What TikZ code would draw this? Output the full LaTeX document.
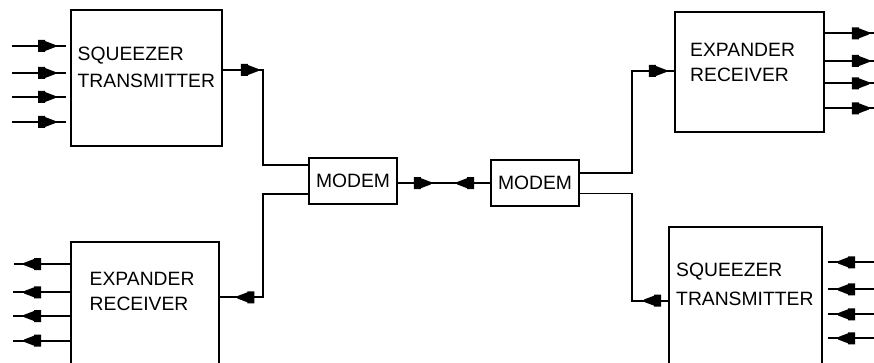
\documentclass[tikz,border=0pt]{standalone}
\usepackage{fontspec}
\setmainfont{Liberation Sans}
\usetikzlibrary{decorations.markings}
\tikzset{
  wire/.style={line width=1.8pt},
  box/.style={draw, line width=1.8pt, rectangle, inner sep=0pt, font=\fontsize{19.3}{26}\selectfont},
  midarr/.style={decoration={markings, mark=at position #1 with {\fill (-17pt,6pt) -- (-10pt,6pt) -- (-10pt,5pt) -- (0pt,1.2pt) -- (0pt,-1.2pt) -- (-10pt,-5pt) -- (-10pt,-6pt) -- (-17pt,-6pt) -- cycle;}}, postaction={decorate}},
  lbl/.style={anchor=north west, inner sep=0pt, align=left}
}
\begin{document}
\begin{tikzpicture}[x=1pt,y=-1pt]
\useasboundingbox (0,0) rectangle (874,363);
\clip (0,0) rectangle (874,363);
% boxes
\node[box, minimum width=151pt, minimum height=136pt] (sqTL) at (146.5,78) {};
\node[box, minimum width=148pt, minimum height=130pt] (exBL) at (145,307) {};
\node[box, minimum width=88pt, minimum height=46pt] (modL) at (353,181.2) {MODEM};
\node[box, minimum width=88pt, minimum height=46pt] (modR) at (535,183) {MODEM};
\node[box, minimum width=149pt, minimum height=120pt] (exTR) at (749.5,72) {};
\node[box, minimum width=153pt, minimum height=145pt] (sqBR) at (745.5,299.5) {};
% labels
\node[lbl, font=\fontsize{19.3}{27}\selectfont] (tTL) at (77.5,47) {SQUEEZER\\TRANSMITTER};
\node[lbl, font=\fontsize{19.3}{25}\selectfont] (tTR) at (690,43) {EXPANDER\\RECEIVER};
\node[lbl, font=\fontsize{19.3}{25.5}\selectfont] (tBL) at (89.5,272) {EXPANDER\\RECEIVER};
\node[lbl, font=\fontsize{19.3}{28.5}\selectfont] (tBR) at (676,263) {SQUEEZER\\TRANSMITTER};
% free ends and bends
\coordinate (in1) at (12,46);  \coordinate (in2) at (12,73);
\coordinate (in3) at (12,97);  \coordinate (in4) at (12,122);
\coordinate (b1) at (14,264);  \coordinate (b2) at (13,292.3);
\coordinate (b3) at (13,316);  \coordinate (b4) at (13,340.7);
\coordinate (o1) at (874,33.3); \coordinate (o2) at (874,61);
\coordinate (o3) at (874,83.3); \coordinate (o4) at (874,108.3);
\coordinate (r1) at (874,262.3); \coordinate (r2) at (874,289.3);
\coordinate (r3) at (874,314.3); \coordinate (r4) at (874,338.3);
\coordinate (jLa) at (263,70);  \coordinate (jLb) at (263,165);
\coordinate (jLc) at (263,194); \coordinate (jLd) at (263,297.3);
\coordinate (jRa) at (632,173); \coordinate (jRb) at (632,71);
\coordinate (jRc) at (632,193.5); \coordinate (jRd) at (632,300.7);
\coordinate (mid) at (444,183.2);
% inputs of top-left squeezer
\foreach \p in {in1,in2,in3,in4}
  \draw[wire, midarr=43pt, shorten >=4pt] (\p) -- (\p -| sqTL.west);
% outputs of bottom-left expander
\foreach \p in {b1,b2,b3,b4}
  \draw[wire, midarr=46pt] (\p -| exBL.west) -- (\p);
% outputs of top-right expander
\foreach \p in {o1,o2,o3,o4}
  \draw[wire, midarr=44pt] (\p -| exTR.east) -- (\p);
% inputs of bottom-right squeezer
\foreach \p in {r1,r2,r3,r4}
  \draw[wire, midarr=36pt, shorten >=5pt] (\p) -- (\p -| sqBR.east);
% left side wiring
\draw[wire, midarr=35pt] (jLa -| sqTL.east) -- (jLa) -- (jLb) -- (jLb -| modL.west);
\draw[wire, midarr=174pt] (jLc -| modL.west) -- (jLc) -- (jLd) -- (jLd -| exBL.east);
% modem link
\draw[wire, midarr=33pt] (mid -| modL.east) -- (mid);
\draw[wire, midarr=33pt] (mid -| modR.west) -- (mid);
% right side wiring
\draw[wire, midarr=188pt] (jRa -| modR.east) -- (jRa) -- (jRb) -- (jRb -| exTR.west);
\draw[wire, midarr=24pt] (jRd -| sqBR.west) -- (jRd) -- (jRc) -- (jRc -| modR.east);
\end{tikzpicture}
\end{document}
